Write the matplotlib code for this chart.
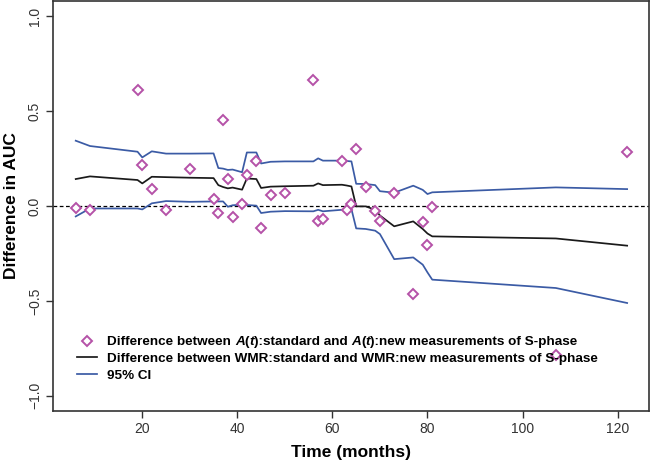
import matplotlib
matplotlib.use("Agg")
import matplotlib.pyplot as plt

plt.rcParams['font.family'] = ['Liberation Sans', 'DejaVu Sans']

times = [6, 9, 19, 20, 22, 25, 30, 35, 36, 37, 38, 39, 41, 42, 44, 45, 47, 50,
         56, 57, 58, 62, 63, 64, 65, 67, 69, 70, 73, 77, 79, 80, 81, 107, 122]

diff_points = [-0.01, -0.02, 0.61, 0.214, 0.09, -0.02, 0.195, 0.038, -0.037, 0.453,
               0.142, -0.056, 0.01, 0.165, 0.235, -0.118, 0.06, 0.066, 0.664, -0.081,
               -0.069, 0.235, -0.02, 0.01, 0.298, 0.102, -0.026, -0.081, 0.07, -0.466,
               -0.083, -0.206, -0.004, -0.785, 0.284]

wmr_diff = [0.142, 0.156, 0.137, 0.119, 0.154, 0.152, 0.149, 0.147, 0.11, 0.100,
            0.093, 0.097, 0.086, 0.145, 0.142, 0.095, 0.102, 0.104, 0.107, 0.119,
            0.110, 0.112, 0.108, 0.103, -0.002, -0.002, -0.02, -0.05, -0.107, -0.081,
            -0.121, -0.145, -0.16, -0.171, -0.209]

ci_upper = [0.344, 0.316, 0.286, 0.256, 0.288, 0.276, 0.276, 0.277, 0.200, 0.197,
            0.190, 0.192, 0.178, 0.282, 0.282, 0.224, 0.233, 0.235, 0.235, 0.251,
            0.239, 0.239, 0.237, 0.235, 0.117, 0.116, 0.11, 0.078, 0.070, 0.107,
            0.085, 0.063, 0.072, 0.098, 0.089]

ci_lower = [-0.055, -0.013, -0.013, -0.018, 0.014, 0.026, 0.022, 0.024, 0.024, 0.024,
            -0.004, 0.004, 0.007, 0.005, 0.002, -0.037, -0.030, -0.027, -0.028, -0.020,
            -0.028, -0.020, -0.018, -0.016, -0.118, -0.121, -0.13, -0.148, -0.28, -0.271,
            -0.309, -0.35, -0.388, -0.432, -0.511]

x_ticks = [20, 40, 60, 80, 100, 120]
y_ticks = [-1.0, -0.5, 0.0, 0.5, 1.0]
y_ticklabels = ['\u22121.0', '\u22120.5', '0.0', '0.5', '1.0']

# first legend label split into (text, italic) pieces
label1_pieces = [('Difference between ', False), ('A', True), ('(', False), ('t', True),
                 ('):standard and ', False), ('A', True), ('(', False), ('t', True),
                 ('):new measurements of S-phase', False)]
label2 = 'Difference between WMR:standard and WMR:new measurements of S-phase'
label3 = '95% CI'

PINK = '#B552A8'
BLUE = '#3B5BA5'
BLACK = '#1a1a1a'
FS_LEG = 9.7

fig = plt.figure(figsize=(6.51, 4.62), dpi=100)
ax = fig.add_axes([53/651, (462-411)/462, 596/651, 410/462])

ax.axhline(0, color='black', lw=0.9, ls=(0, (3, 2)), zorder=1)
ax.plot(times, ci_upper, color=BLUE, lw=1.25, zorder=2)
ax.plot(times, ci_lower, color=BLUE, lw=1.25, zorder=2)
ax.plot(times, wmr_diff, color=BLACK, lw=1.25, zorder=3)
ax.plot(times, diff_points, ls='none', marker='D', ms=4.8, mfc='white',
        mec=PINK, mew=1.4, zorder=4)

ax.set_xlim(1.22, 126.6)
ax.set_ylim(-1.08, 1.08)
ax.set_xticks(x_ticks)
ax.set_yticks(y_ticks)
ax.set_yticklabels(y_ticklabels, rotation=90, va='center')
ax.tick_params(axis='both', direction='out', length=5, width=1, labelsize=10,
               labelcolor='#333333', color='#333333', pad=3)
for s in ax.spines.values():
    s.set_color('#333333')
    s.set_linewidth(1.2)

ax.set_xlabel('Time (months)', fontsize=12.5, fontweight='bold')
ax.set_ylabel('Difference in AUC', fontsize=12.5, fontweight='bold')
ax.xaxis.set_label_coords(0.5, -0.0829)
ax.yaxis.set_label_coords((18.6 - 53) / 596, 0.5)

h1, = ax.plot([], [], ls='none', marker='D', ms=4.8, mfc='white', mec=PINK, mew=1.4)
h2, = ax.plot([], [], color=BLACK, lw=1.25)
h3, = ax.plot([], [], color=BLUE, lw=1.25)
leg = ax.legend([h1, h2, h3], [' ', label2, label3], loc='upper left',
                bbox_to_anchor=(24/596, (411-336)/410),
                frameon=False, prop={'weight': 'bold', 'size': FS_LEG},
                handlelength=1.45, handletextpad=0.8, labelspacing=0.32, borderaxespad=0,
                borderpad=0)

# draw first label as rich text aligned with the legend rows
fig.canvas.draw()
texts = leg.get_texts()
t2 = texts[1]
t3 = texts[2]
r = fig.canvas.get_renderer()
b2 = t2.get_window_extent(r)
b3 = t3.get_window_extent(r)
row = b2.y0 - b3.y0  # pixels between rows
prev = None
for i, (s, it) in enumerate(label1_pieces):
    kw = dict(fontsize=FS_LEG, fontweight='bold', fontstyle='italic' if it else 'normal',
              va='bottom', ha='left', annotation_clip=False)
    if prev is None:
        prev = ax.annotate(s, xy=(0, 0), xycoords=t2, xytext=(0, row * 72 / fig.dpi),
                           textcoords='offset points', **kw)
    else:
        prev = ax.annotate(s, xy=(1, 0), xycoords=prev, **kw)

fig.savefig('out.png', dpi=100)
